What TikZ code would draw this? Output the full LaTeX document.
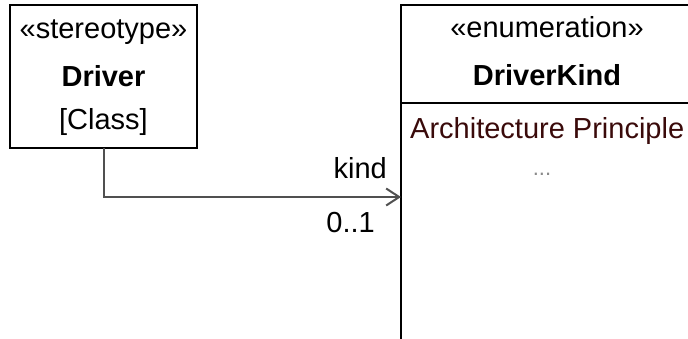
\documentclass[tikz,border=0pt]{standalone}
\usepackage{fontspec}
\setmainfont{Liberation Sans}
\usetikzlibrary{arrows.meta}
\definecolor{litcol}{HTML}{3A0A0A}
\definecolor{dotcol}{HTML}{8A8A8A}
\definecolor{linkcol}{HTML}{505050}
\begin{document}
\begin{tikzpicture}[x=1pt,y=-1pt,
  box/.style={draw=black, line width=2pt, inner sep=0pt, outer sep=0pt, fill=white},
  divider/.style={draw=black, line width=2pt},
  txt/.style={font=\fontsize{29}{34}\selectfont, inner sep=0pt, anchor=base},
  assoc/.style={draw=linkcol, line width=2pt, -{Straight Barb[length=13pt,width=17pt,line width=2pt]}}
]
\useasboundingbox (0,0) rectangle (688,338);
\clip (0,0) rectangle (688,338);
\fill[white] (0,0) rectangle (688,338);
% left class box
\node[box, minimum width=187pt, minimum height=143pt, anchor=north west] (driver) at (10,5) {};
\node[txt] (driverst) at (103.5,38) {«stereotype»};
\node[txt] (drivername) at (103.5,86) {\textbf{Driver}};
\node[txt] (driverkind) at (103.5,129) {[Class]};
% enumeration box
\node[box, minimum width=292pt, minimum height=345pt, anchor=north west] (enum) at (401,5) {};
\coordinate (divy) at (0,103);
\draw[divider] (enum.west |- divy) -- (enum.east |- divy);
\node[txt] (enumst) at (547,37) {«enumeration»};
\node[txt] (enumname) at (547,85) {\textbf{DriverKind}};
\node[txt, anchor=base west, text=litcol] (lit1) at (410,138) {Architecture Principle};
\node[txt, font=\fontsize{22}{26}\selectfont, text=dotcol] (dots) at (542,175) {...};
% association
\coordinate (tipy) at (0,197);
\draw[assoc] (driver.south) |- (enum.west |- tipy);
\node[txt, anchor=base east] (rolename) at (387,178) {kind};
\node[txt, anchor=base east] (mult) at (375,232) {0..1};
\end{tikzpicture}
\end{document}
